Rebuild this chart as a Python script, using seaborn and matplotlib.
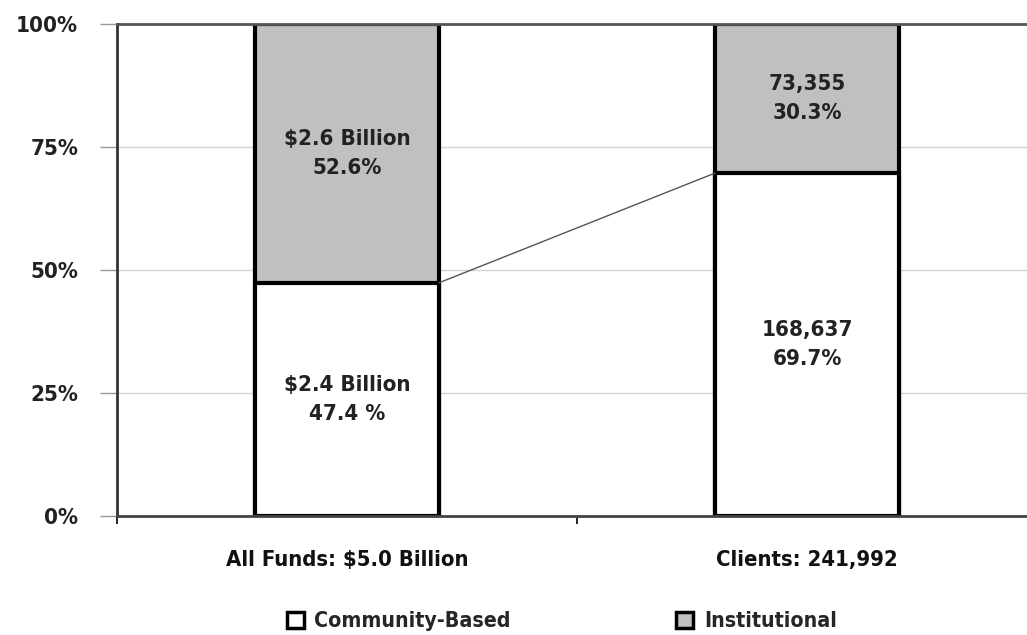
import pandas as pd
import matplotlib.pyplot as plt
import seaborn as sns
from matplotlib.patches import Patch

# chart data
categories = ['All Funds: $5.0 Billion', 'Clients: 241,992']
community_pct = [47.4, 69.7]
institutional_pct = [52.6, 30.3]
community_labels = ['$2.4 Billion\n47.4 %', '168,637\n69.7%']
institutional_labels = ['$2.6 Billion\n52.6%', '73,355\n30.3%']
y_ticks = [0, 25, 50, 75, 100]
y_tick_labels = ['0%', '25%', '50%', '75%', '100%']

sns.set_style('white')
plt.rcParams['font.family'] = ['DejaVu Sans']
plt.rcParams['font.stretch'] = 'condensed'

df = pd.DataFrame({'cat': categories,
                   'community': community_pct,
                   'total': [c + i for c, i in zip(community_pct, institutional_pct)]})

fig = plt.figure(figsize=(10.27, 6.35), dpi=100)
ax = fig.add_axes([117 / 1027, 1 - 516 / 635, 920 / 1027, 492 / 635])

# stacked: full bar in grey, community part in white over it
sns.barplot(data=df, x='cat', y='total', ax=ax, color='#c0c0c0', width=0.4,
            edgecolor='black', linewidth=3, saturation=1)
sns.barplot(data=df, x='cat', y='community', ax=ax, color='white', width=0.4,
            edgecolor='black', linewidth=3, saturation=1)

ax.set_xlim(-0.5, 1.5)
ax.set_ylim(0, 100)
ax.set_yticks(y_ticks)
ax.set_yticklabels(y_tick_labels, fontsize=16, fontweight='bold', color='#222222')
ax.set_xticks([-0.5, 0.5])
ax.set_xticklabels(['', ''])
ax.yaxis.grid(True, color='#d4d4d4', linewidth=1)
ax.set_axisbelow(True)
ax.tick_params(axis='y', length=12, width=1, color='#999999', pad=16, left=True)
ax.tick_params(axis='x', length=6, width=1.2, color='black', bottom=True)
ax.set_xlabel('')
ax.set_ylabel('')

ax.spines['right'].set_visible(False)
ax.spines['top'].set_color('#555555')
ax.spines['top'].set_linewidth(2)
ax.spines['left'].set_color('#333333')
ax.spines['left'].set_linewidth(2)
ax.spines['bottom'].set_color('#444444')
ax.spines['bottom'].set_linewidth(2)

# category labels under the bars
for i, cat in enumerate(categories):
    ax.text(i, -9, cat, ha='center', va='center', fontsize=15.8, fontweight='bold',
            color='#111111')

# segment labels
for i in range(len(categories)):
    ax.text(i, community_pct[i] / 2, community_labels[i], ha='center', va='center',
            fontsize=16, fontweight='bold', color='#222222', linespacing=1.6)
    ax.text(i, community_pct[i] + institutional_pct[i] / 2, institutional_labels[i],
            ha='center', va='center', fontsize=16, fontweight='bold',
            color='#222222', linespacing=1.6)

# connector line between the community tops
ax.plot([0.2, 0.8], [community_pct[0], community_pct[1]], color='#555555', linewidth=1)

handles = [Patch(facecolor='white', edgecolor='black', linewidth=2.5, label='Community-Based'),
           Patch(facecolor='#c0c0c0', edgecolor='black', linewidth=2.5, label='Institutional')]
fig.legend(handles=handles, loc='center', bbox_to_anchor=(0.547, 0.022), ncol=2,
           frameon=False, prop={'size': 15.3, 'weight': 'bold', 'stretch': 'condensed'},
           columnspacing=7.8, handlelength=0.8, handleheight=0.8, handletextpad=0.5)

fig.savefig('out.png', dpi=100)
